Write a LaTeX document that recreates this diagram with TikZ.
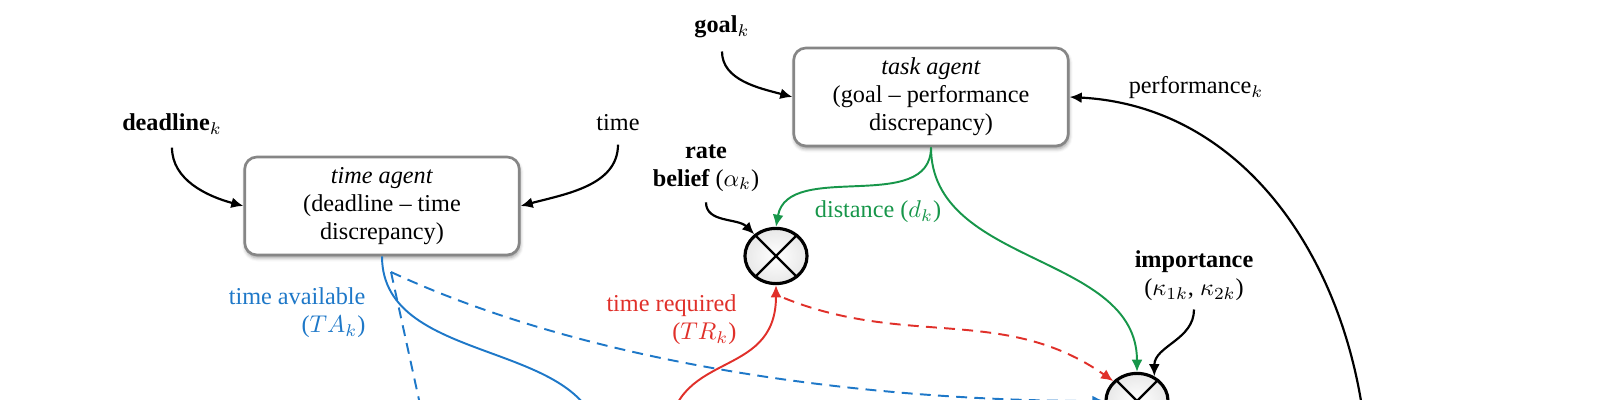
\documentclass[tikz,border=0pt]{standalone}
\usepackage{fontspec}
\setmainfont{Liberation Serif}
\usepackage{tikz}
\usetikzlibrary{
  shapes.geometric, arrows.meta, positioning, calc, shadows.blur
}
\definecolor{colorTA}{HTML}{1E78C8}
\definecolor{colorTR}{HTML}{E0302A}
\definecolor{colorD}{HTML}{17964A}

\begin{document}
\begin{tikzpicture}[
  x=0.0145cm, y=0.0145cm,
  every node/.style={font=\fontsize{10pt}{11.5pt}\selectfont},
  agentbox/.style={draw=gray!95, rounded corners=5pt, fill=white, line width=1.1pt,
                   minimum width=3.98cm, minimum height=1.42cm, align=center,
                   blur shadow={shadow xshift=0.3pt, shadow yshift=-1.2pt,
                                shadow blur radius=1.5pt, shadow opacity=40}},
  mult/.style={ellipse, draw, line width=1.3pt, minimum width=0.9cm,
               minimum height=0.8cm, inner sep=0pt,
               inner color=white, outer color=gray!18},
  arr/.style={-{Latex[length=5pt, width=4.5pt]}, line width=0.9pt},
  taline/.style={arr, color=colorTA, line width=0.8pt},
  trline/.style={arr, color=colorTR, line width=0.8pt},
  dline/.style={arr, color=colorD, line width=0.8pt},
  dashline/.style={dash pattern=on 4.5pt off 3pt}
]
\useasboundingbox (0,0) rectangle (1600,-400);
\clip (0,0) rectangle (1600,-400);

% agents
\node[agentbox] (time) at (382,-206) {\textit{time agent}\\(deadline -- time\\discrepancy)};
\node[agentbox] (task) at (931,-97)  {\textit{task agent}\\(goal -- performance\\discrepancy)};

% inputs
\node (deadline) at (172,-124) {\textbf{deadline}$_k$};
\node (clock)    at (618,-123) {time};
\node (goal)     at (722,-27)  {\textbf{goal}$_k$};
\node (perf)     at (1196,-88) {performance$_k$};
\node[align=center] (rate) at (706,-168) {\textbf{rate}\\\textbf{belief} ($\alpha_k$)};
\node[align=center] (imp)  at (1194,-276) {\textbf{importance}\\($\kappa_{1k}$, $\kappa_{2k}$)};

% multipliers
\node[mult] (m1) at (776,-256) {};
\node[mult] (m2) at (1137,-401) {};
\foreach \m in {m1, m2}
  \draw[line width=1pt] (\m.45) -- (\m.225) (\m.135) -- (\m.315);

% edge labels
\node[colorD] (dist) at (878,-212) {distance ($d_k$)};
\node[colorTA, align=right, anchor=east] (talab) at (374,-313) {time available\\($TA_k$)};
\node[colorTR, align=right, anchor=east] (trlab) at (745,-320) {time required\\($TR_k$)};

% free ends below the frame
\coordinate (tagoal)   at (600,-450);
\coordinate (tadown)   at (430,-450);
\coordinate (tabranch) at (391,-272);
\coordinate (trsrc)    at (668,-445);
\coordinate (trbranch) at (784,-298);
\coordinate (perfsrc)  at (1368,-470);

\draw[arr, shorten <=2pt] (deadline.south) to[out=-90, in=165] (time.west);
\draw[arr, shorten <=2pt] (clock.south) to[out=-90, in=15] (time.east);
\draw[arr, shorten <=2pt] (goal.south) to[out=-90, in=165] (task.west);
\draw[arr] (perfsrc) to[out=92, in=-3] (task.east);
\draw[arr, shorten <=1pt] (rate.south) to[out=-90, in=135] (m1.135);
\draw[arr] (imp.south) to[out=-90, in=90] (m2.55);

\draw[dline] (task.south) to[out=-90, in=80] (m1.north);
\draw[dline] (task.south) to[out=-90, in=90] (m2.north);

\draw[trline] (trsrc) to[out=90, in=-90, looseness=1.3] (m1.south);
\draw[trline, dashline] (trbranch) to[out=-22, in=145] (m2.140);

\draw[taline, -] (time.south) to[out=-90, in=90] (tagoal);
\draw[taline, -, dashline] (tabranch) -- (tadown);
\draw[taline, dashline] (tabranch) to[out=-25, in=180, looseness=0.8] (m2.west);

\end{tikzpicture}
\end{document}
